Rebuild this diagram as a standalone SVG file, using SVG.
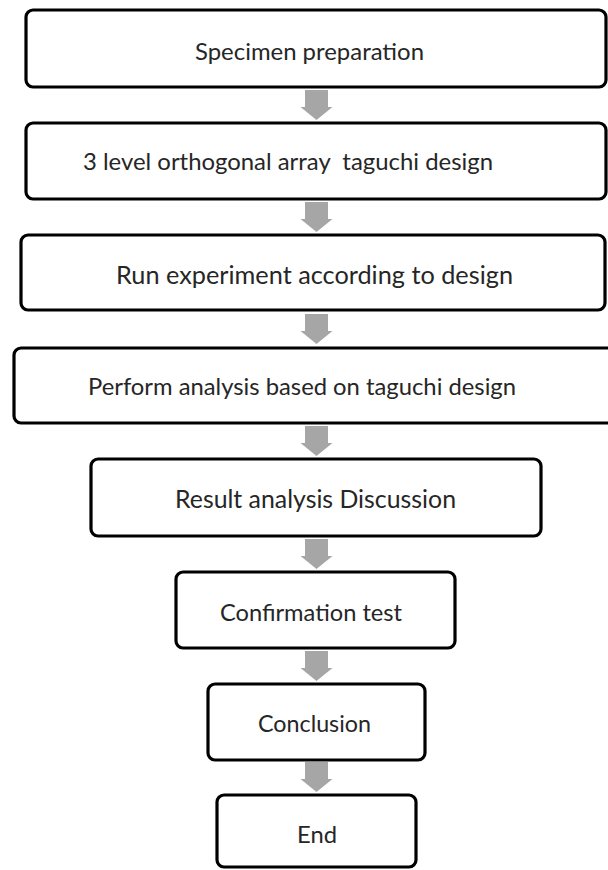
<svg xmlns="http://www.w3.org/2000/svg" width="608" height="870" viewBox="0 0 608 870">
<defs>
<style>
.box{fill:#ffffff;stroke:#000000;stroke-width:3.2}
.t{font-family:Lato,"Liberation Sans",sans-serif;font-size:23px;fill:#262626;white-space:pre}
.tl{font-size:24.3px}
.arr{fill:#a6a6a6}
</style>
<path id="ar" d="M-11.5,0 H11.5 V17 H16 L0,30 L-16,17 H-11.5 Z"/>
</defs>
<rect width="608" height="870" fill="#ffffff"/>
<g id="connectors">
<use href="#ar" class="arr" x="316.5" y="90"/>
<use href="#ar" class="arr" x="316.5" y="202"/>
<use href="#ar" class="arr" x="316.5" y="314"/>
<use href="#ar" class="arr" x="316.5" y="426"/>
<use href="#ar" class="arr" x="316.5" y="539"/>
<use href="#ar" class="arr" x="316.5" y="651"/>
<use href="#ar" class="arr" x="316.5" y="762"/>
</g>
<g id="n1"><rect class="box" x="26" y="10" width="580" height="77" rx="7"/>
<text class="t" x="195" y="60" textLength="229" lengthAdjust="spacingAndGlyphs">Specimen preparation</text></g>
<g id="n2"><rect class="box" x="26" y="123" width="580" height="76" rx="7"/>
<text class="t" x="83" y="170" textLength="410" lengthAdjust="spacingAndGlyphs">3 level orthogonal array  taguchi design</text></g>
<g id="n3"><rect class="box" x="21" y="235" width="584" height="75" rx="7"/>
<text class="t tl" x="116" y="284" textLength="397" lengthAdjust="spacingAndGlyphs">Run experiment according to design</text></g>
<g id="n4"><rect class="box" x="14" y="348" width="604" height="75" rx="7"/>
<text class="t" x="88" y="395" textLength="428" lengthAdjust="spacingAndGlyphs">Perform analysis based on taguchi design</text></g>
<g id="n5"><rect class="box" x="91" y="459" width="450" height="77" rx="7"/>
<text class="t tl" x="175" y="508" textLength="281" lengthAdjust="spacingAndGlyphs">Result analysis Discussion</text></g>
<g id="n6"><rect class="box" x="176" y="572" width="279" height="76" rx="7"/>
<text class="t" x="220" y="621" textLength="182" lengthAdjust="spacingAndGlyphs">Confirmation test</text></g>
<g id="n7"><rect class="box" x="208" y="684" width="217" height="76" rx="7"/>
<text class="t" x="258" y="732" textLength="113" lengthAdjust="spacingAndGlyphs">Conclusion</text></g>
<g id="n8"><rect class="box" x="217" y="795" width="199" height="72" rx="7"/>
<text class="t" x="297" y="843" textLength="40" lengthAdjust="spacingAndGlyphs">End</text></g>
</svg>
